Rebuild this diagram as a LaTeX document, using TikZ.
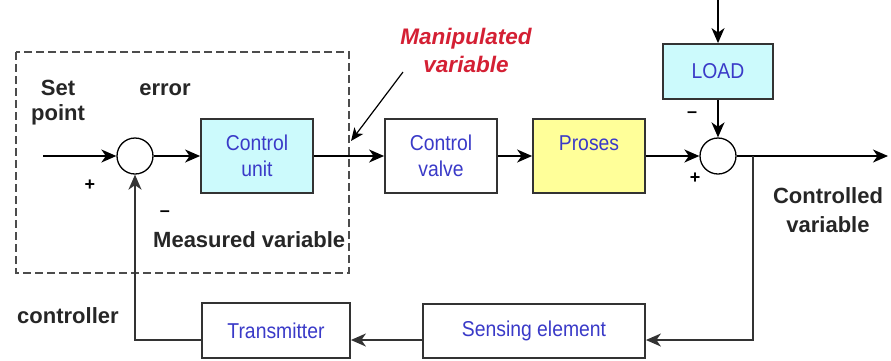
\documentclass[tikz,border=0pt]{standalone}
\usepackage{fontspec}
\setmainfont{Liberation Sans}
\newfontfamily\boxfont[FakeStretch=0.9]{Liberation Sans}
\usetikzlibrary{arrows.meta}
\definecolor{boxcyan}{HTML}{CCFAFC}
\definecolor{boxyellow}{HTML}{FFFF99}
\definecolor{txtblue}{HTML}{3A3AC8}
\definecolor{mvred}{HTML}{D42034}
\definecolor{edge}{HTML}{333333}
\tikzset{
  blk/.style={draw=edge, line width=1.8pt, inner sep=0pt, align=center,
    font=\boxfont\fontsize{21.5}{26}\selectfont, text=txtblue},
  sumc/.style={circle, draw=black, line width=1.3pt, minimum size=36pt, inner sep=0pt},
  lab/.style={font=\fontsize{22}{25}\selectfont\bfseries, text=black!85, inner sep=0pt},
  sgn/.style={font=\fontsize{18}{20}\selectfont\bfseries, inner sep=0pt},
  sig/.style={line width=1.5pt, -{Stealth[length=15pt,width=13pt,inset=4.5pt]}},
  fbk/.style={draw=edge, line width=1.7pt},
}
\begin{document}
\begin{tikzpicture}[x=1pt,y=-1pt]
\useasboundingbox (0,0) rectangle (891,360);
% controller dashed frame
\draw[draw=black!70, line width=1.3pt, dash pattern=on 8pt off 4pt] (16,52) rectangle (349,273);
% blocks
\node[blk, fill=boxcyan, minimum width=112pt, minimum height=74pt] (cu) at (257,156) {Control\\unit};
\node[blk, fill=white, minimum width=112pt, minimum height=74pt] (cv) at (441,156) {Control\\valve};
\node[blk, fill=boxyellow, minimum width=112pt, minimum height=74pt] (pr) at (589,156) {Proses\\\mbox{}};
\node[blk, fill=boxcyan, minimum width=110pt, minimum height=55pt] (load) at (718,71.5) {LOAD};
\node[blk, fill=white, minimum width=148pt, minimum height=55pt] (tr) at (276,330.5) {Transmitter};
\node[blk, fill=white, minimum width=222pt, minimum height=54pt] (se) at (534,331) {Sensing element};
% summing junctions
\node[sumc] (s1) at (135,156) {};
\node[sumc] (s2) at (718,156) {};
% coordinates
\coordinate (in) at (43,156);
\coordinate (out) at (888,156);
\coordinate (ldin) at (718,0);
\coordinate (tap) at (753,156);
\coordinate (fbr) at (753,340);
\coordinate (fbl) at (135,340);
\coordinate (mvs) at (403,72);
\coordinate (mve) at (351,141);
% forward path
\draw[sig] (in) -- (s1);
\draw[sig] (s1) -- (cu);
\draw[sig] (cu) -- (cv);
\draw[sig] (cv) -- (pr);
\draw[sig] (pr) -- (s2);
\draw[sig] (s2) -- (out);
\draw[sig] (ldin) -- (load);
\draw[sig] (load) -- (s2);
% feedback path
\draw[sig, fbk] (tap) -- (fbr) -- (se.east |- fbr);
\draw[sig, fbk] (se.west |- fbr) -- (tr.east |- fbr);
\draw[sig, fbk] (tr.west |- fbl) -- (fbl) -- (s1);
% manipulated variable pointer
\draw[line width=1.2pt, -{Stealth[length=13pt,width=11pt,inset=3.5pt]}] (mvs) -- (mve);
% labels
\node[lab, anchor=base] (set) at (58,95) {Set};
\node[lab, anchor=base] (point) at (58,120) {point};
\node[lab, anchor=base] (err) at (165,95) {error};
\node[lab, anchor=base west] (meas) at (153,247) {Measured variable};
\node[lab, anchor=base] (cv1) at (828,203) {Controlled};
\node[lab, anchor=base] (cv2) at (828,232) {variable};
\node[lab, anchor=base west] (ctrl) at (17,323) {controller};
\node[font=\fontsize{22.5}{26}\selectfont\bfseries\itshape, text=mvred, inner sep=0pt, anchor=base] (mv1) at (466,44) {Manipulated};
\node[font=\fontsize{22.5}{26}\selectfont\bfseries\itshape, text=mvred, inner sep=0pt, anchor=base] (mv2) at (466,72) {variable};
\node[sgn] (p1) at (90,185) {+};
\node[sgn] (m1) at (165,214) {--};
\node[sgn] (m2) at (692,115) {--};
\node[sgn] (p2) at (695,178) {+};
\end{tikzpicture}
\end{document}
